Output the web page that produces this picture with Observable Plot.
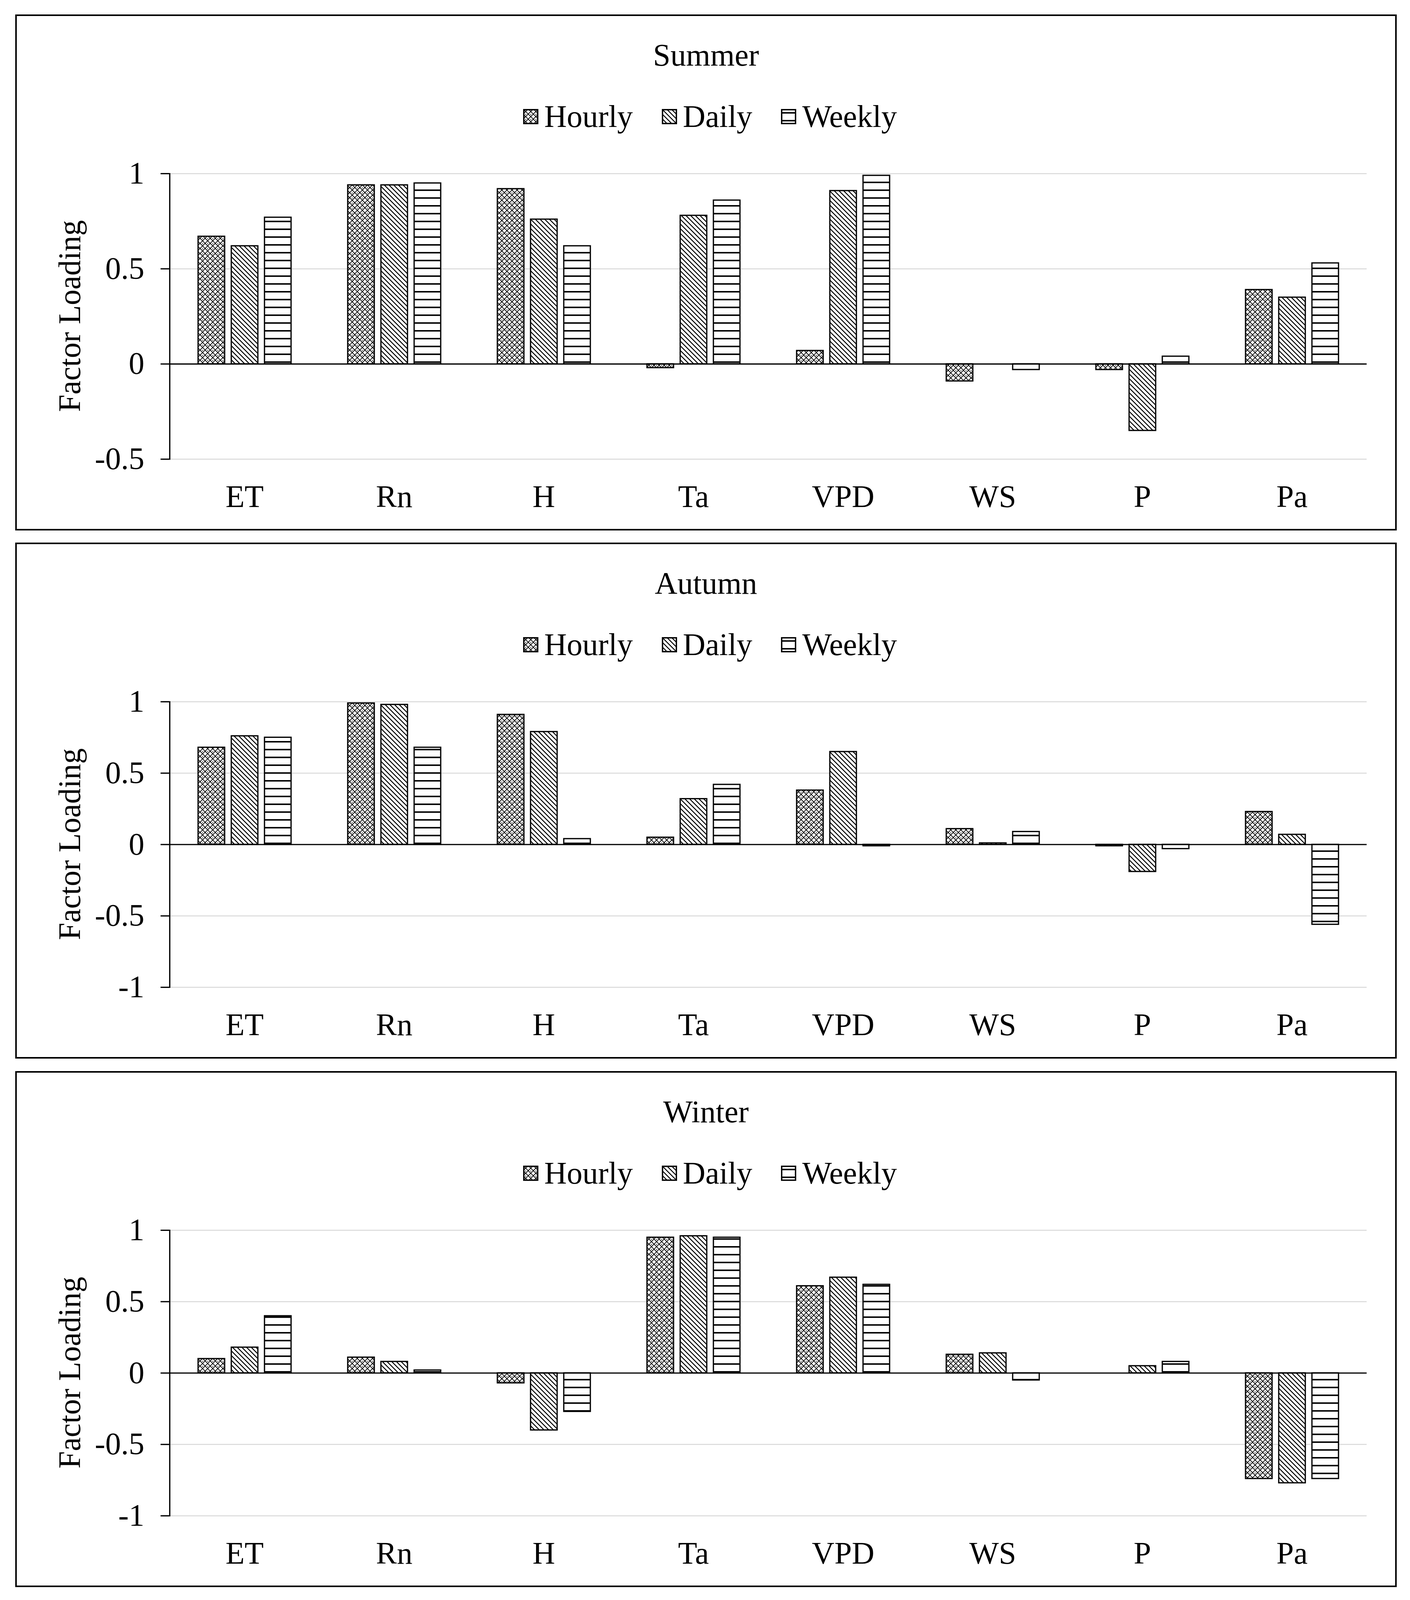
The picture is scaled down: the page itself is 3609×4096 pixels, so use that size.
<!DOCTYPE html>
<html>
<head>
<meta charset="utf-8">
<script src="https://cdn.jsdelivr.net/npm/d3@7"></script>
<script src="https://cdn.jsdelivr.net/npm/@observablehq/plot@0.6"></script>
<style>
html,body{margin:0;padding:0;background:#fff;}
body{width:3609px;height:4096px;position:relative;overflow:hidden;font-family:"Liberation Serif","Times New Roman",serif;color:#000;}
.panel{position:absolute;left:39px;width:3536px;height:1321px;box-sizing:border-box;border:4px solid #000;background:#fff;}
.title{position:absolute;left:0;right:0;text-align:center;font-size:80px;line-height:1;}
.legend{position:absolute;display:flex;align-items:center;font-size:80px;line-height:1;white-space:nowrap;}
.legend .item{display:flex;align-items:center;margin-right:74px;}
.legend .item:last-child{margin-right:0;}
.legend svg{margin-right:15px;display:block;}
.ylab{position:absolute;font-size:80px;line-height:1;white-space:nowrap;transform:translate(-50%,-50%) rotate(-90deg);}
.plot{position:absolute;left:0;top:296px;}
</style>
</head>
<body>
<svg width="0" height="0" style="position:absolute">
  <defs>
    <pattern id="p-hourly" patternUnits="userSpaceOnUse" width="13" height="13">
      <rect width="13" height="13" fill="#fff"/>
      <path d="M0,0L13,13M13,0L0,13" stroke="#000" stroke-width="1.9"/>
      <rect x="5.2" y="0" width="2.6" height="1.6" fill="#000"/>
    </pattern>
    <pattern id="p-daily" patternUnits="userSpaceOnUse" width="12" height="12">
      <rect width="12" height="12" fill="#fff"/>
      <path d="M0,0L12,12M-1,11L1,13M11,-1L13,1" stroke="#000" stroke-width="2.4"/>
    </pattern>
    <pattern id="p-weekly" patternUnits="userSpaceOnUse" width="20" height="20">
      <rect width="20" height="20" fill="#fff"/>
      <rect y="8" width="20" height="3.8" fill="#000"/>
    </pattern>
  </defs>
</svg>
<script>
const categories = ["ET", "Rn", "H", "Ta", "VPD", "WS", "P", "Pa"];
const seriesNames = ["Hourly", "Daily", "Weekly"];
const seasons = ["Summer", "Autumn", "Winter"];

const summerHourly = [0.67, 0.94, 0.92, -0.02, 0.07, -0.09, -0.03, 0.39];
const summerDaily  = [0.62, 0.94, 0.76, 0.78, 0.91, 0.00, -0.35, 0.35];
const summerWeekly = [0.77, 0.95, 0.62, 0.86, 0.99, -0.03, 0.04, 0.53];

const autumnHourly = [0.68, 0.99, 0.91, 0.05, 0.38, 0.11, -0.01, 0.23];
const autumnDaily  = [0.76, 0.98, 0.79, 0.32, 0.65, 0.01, -0.19, 0.07];
const autumnWeekly = [0.75, 0.68, 0.04, 0.42, -0.01, 0.09, -0.03, -0.56];

const winterHourly = [0.10, 0.11, -0.07, 0.95, 0.61, 0.13, 0.00, -0.74];
const winterDaily  = [0.18, 0.08, -0.40, 0.96, 0.67, 0.14, 0.05, -0.77];
const winterWeekly = [0.40, 0.02, -0.27, 0.95, 0.62, -0.05, 0.08, -0.74];

const summerTicks = [-0.5, 0, 0.5, 1];
const fullTicks = [-1, -0.5, 0, 0.5, 1];
const yAxisTitle = "Factor Loading";

const patternUrls = ["url(#p-hourly)", "url(#p-daily)", "url(#p-weekly)"];

const panels = [
  {name: seasons[0], top: 37,   series: [summerHourly, summerDaily, summerWeekly], domain: [-0.5, 1], ticks: summerTicks},
  {name: seasons[1], top: 1389, series: [autumnHourly, autumnDaily, autumnWeekly], domain: [-1, 1], ticks: fullTicks},
  {name: seasons[2], top: 2742, series: [winterHourly, winterDaily, winterWeekly], domain: [-1, 1], ticks: fullTicks}
];

function makePlot(p) {
  const data = [];
  categories.forEach((c, i) => {
    seriesNames.forEach((s, j) => data.push({cat: c, series: s, value: p.series[j][i]}));
  });
  return Plot.plot({
    width: 3528,
    height: 1000,
    marginTop: 107,
    marginBottom: 162,
    marginLeft: 390,
    marginRight: 72,
    style: {fontFamily: "Liberation Serif, Times New Roman, serif", fontSize: "80px", color: "#000", background: "transparent", overflow: "visible"},
    fx: {domain: categories, padding: 0, label: null},
    x: {type: "band", domain: seriesNames, paddingInner: 0.2, paddingOuter: 0.85, axis: null},
    y: {domain: p.domain, label: null},
    color: {type: "ordinal", domain: seriesNames, range: patternUrls},
    marks: [
      Plot.gridY(p.ticks, {stroke: "#d9d9d9", strokeOpacity: 1, strokeWidth: 2.5}),
      Plot.barY(data, {fx: "cat", x: "series", y: "value", fill: "series", stroke: "#000", strokeWidth: 3.2}),
      Plot.ruleY([0], {stroke: "#000", strokeWidth: 3.2}),
      Plot.frame({anchor: "left", facetAnchor: "left", stroke: "#000", strokeWidth: 3.2}),
      Plot.axisY(p.ticks, {tickSize: 23, tickPadding: 42, tickFormat: (d) => String(d), stroke: "#000", strokeWidth: 3.2, fontSize: 80, label: null}),
      Plot.axisFx({anchor: "bottom", tickSize: 0, tickPadding: 66, fontSize: 80, label: null})
    ]
  });
}

for (const p of panels) {
  const div = document.createElement("div");
  div.className = "panel";
  div.style.top = p.top + "px";

  const t = document.createElement("div");
  t.className = "title";
  t.style.top = "60px";
  t.textContent = p.name;
  div.appendChild(t);

  const lg = document.createElement("div");
  lg.className = "legend";
  lg.style.left = "1296px";
  lg.style.top = "217px";
  seriesNames.forEach((s, j) => {
    const item = document.createElement("div");
    item.className = "item";
    item.innerHTML = `<svg width="39" height="39"><rect x="1.75" y="1.75" width="35.5" height="35.5" fill="${patternUrls[j]}" stroke="#000" stroke-width="3.5"/></svg><span>${s}</span>`;
    lg.appendChild(item);
  });
  div.appendChild(lg);

  const yl = document.createElement("div");
  yl.className = "ylab";
  yl.style.left = "135px";
  yl.style.top = "768px";
  yl.textContent = yAxisTitle;
  div.appendChild(yl);

  const chart = makePlot(p);
  chart.classList.add("plot");
  div.appendChild(chart);

  document.body.appendChild(div);
}
</script>
</body>
</html>
